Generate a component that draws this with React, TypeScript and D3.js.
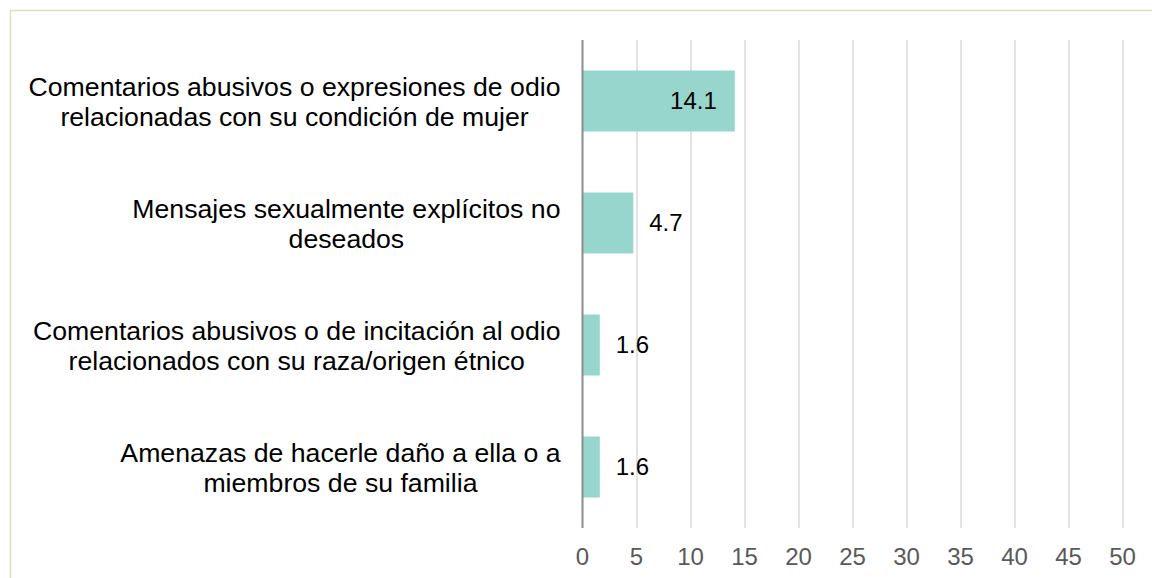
import React, { useEffect, useRef } from "react";
import * as d3 from "d3";

// categories (each split into two lines as in the original)
const categories = [
  ["Comentarios abusivos o expresiones de odio", "relacionadas con su condición de mujer"],
  ["Mensajes sexualmente explícitos no", "deseados"],
  ["Comentarios abusivos o de incitación al odio", "relacionados con su raza/origen étnico"],
  ["Amenazas de hacerle daño a ella o a", "miembros de su familia"],
];
const values = [14.1, 4.7, 1.6, 1.6];
const xTicks = [0, 5, 10, 15, 20, 25, 30, 35, 40, 45, 50];

const W = 1152;
const H = 578;
const FONT = "'Liberation Sans', Arial, sans-serif";

export default function App() {
  const ref = useRef<SVGSVGElement>(null);

  useEffect(() => {
    const svg = d3.select(ref.current);
    svg.selectAll("*").remove();

    const margin = { top: 40, left: 582.5, right: 29.5, bottom: 50 };
    const w = W - margin.left - margin.right,
      h = H - margin.top - margin.bottom;

    // outer frame
    svg.append("rect")
      .attr("x", 10.5).attr("y", 10.5)
      .attr("width", W).attr("height", H)
      .attr("fill", "none")
      .attr("stroke", "#e2dcc2")
      .attr("stroke-width", 1.5);

    const g = svg.append("g").attr("transform", `translate(${margin.left},${margin.top})`);

    const x = d3.scaleLinear().domain([0, 50]).range([0, w]);
    const y = d3.scaleBand<number>()
      .domain(d3.range(values.length))
      .range([0, h])
      .paddingInner(0.5)
      .paddingOuter(0.25);

    // gridlines
    g.selectAll(".grid")
      .data(xTicks.slice(1))
      .join("line")
      .attr("class", "grid")
      .attr("x1", d => Math.round(x(d)) + 0.5)
      .attr("x2", d => Math.round(x(d)) + 0.5)
      .attr("y1", 0)
      .attr("y2", h)
      .attr("stroke", "#e3e3e3")
      .attr("stroke-width", 2);

    // bars
    g.selectAll(".bar")
      .data(values)
      .join("rect")
      .attr("class", "bar")
      .attr("x", 0)
      .attr("y", (d, i) => y(i)!)
      .attr("width", d => x(d))
      .attr("height", y.bandwidth())
      .attr("fill", "#97d6cc");

    // axis line
    g.append("line")
      .attr("x1", 0).attr("x2", 0)
      .attr("y1", 0).attr("y2", h)
      .attr("stroke", "#8c8c8c")
      .attr("stroke-width", 2);

    // value labels
    g.selectAll(".val")
      .data(values)
      .join("text")
      .attr("class", "val")
      .attr("x", d => (d > 10 ? x(d) - 18 : x(d) + 16))
      .attr("y", (d, i) => y(i)! + y.bandwidth() / 2)
      .attr("dy", "0.35em")
      .attr("text-anchor", d => (d > 10 ? "end" : "start"))
      .style("font-family", FONT)
      .style("font-size", "24px")
      .attr("fill", "#000")
      .text(d => d.toFixed(1));

    // x tick labels
    g.selectAll(".tick")
      .data(xTicks)
      .join("text")
      .attr("class", "tick")
      .attr("x", d => x(d))
      .attr("y", h + 37)
      .attr("text-anchor", "middle")
      .style("font-family", FONT)
      .style("font-size", "24px")
      .attr("fill", "#595959")
      .text(d => d);

    // category labels: each block centred, right edge aligned
    const right = -22;
    const cat = g.selectAll(".cat")
      .data(categories)
      .join("text")
      .attr("class", "cat")
      .attr("text-anchor", "middle")
      .style("font-family", FONT)
      .style("font-size", "26.67px")
      .attr("fill", "#000");
    cat.each(function (d, i) {
      const t = d3.select(this);
      const cy = y(i)! + y.bandwidth() / 2;
      t.selectAll("tspan")
        .data(d)
        .join("tspan")
        .attr("y", (s, j) => cy - 5 + j * 30)
        .text(s => s);
      let maxW = 0;
      t.selectAll<SVGTSpanElement, string>("tspan").each(function () {
        maxW = Math.max(maxW, this.getComputedTextLength());
      });
      t.selectAll("tspan").attr("x", right - maxW / 2);
    });
  }, []);

  return <svg ref={ref} width={W} height={H} style={{ position: "absolute", left: 0, top: 0 }} />;
}
